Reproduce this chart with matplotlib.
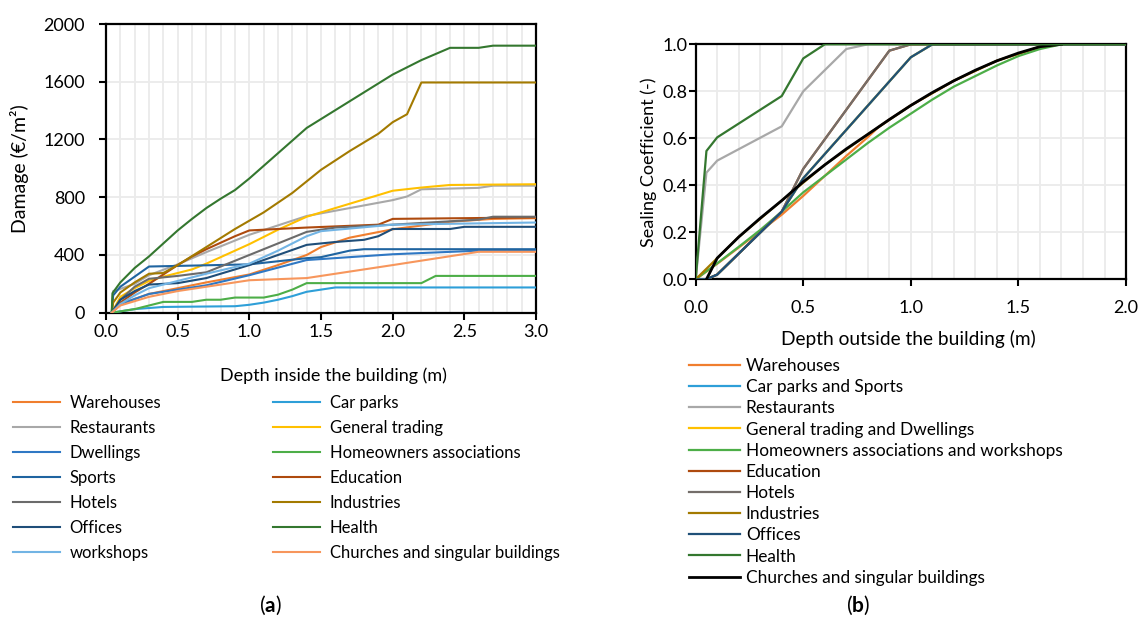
import numpy as np
import matplotlib
matplotlib.use("Agg")
import matplotlib.pyplot as plt
from matplotlib.ticker import FormatStrFormatter

plt.rcParams['font.family'] = ['Lato', 'DejaVu Sans']
plt.rcParams['mathtext.fontset'] = 'custom'
plt.rcParams['mathtext.rm'] = 'Lato'
plt.rcParams['mathtext.bf'] = 'Lato:bold'

# (a) damage inside the building
names_a = ['Warehouses', 'Car parks', 'Restaurants', 'General trading', 'Dwellings',
           'Homeowners associations', 'Sports', 'Education', 'Hotels', 'Industries',
           'Offices', 'Health', 'workshops', 'Churches and singular buildings']
colors_a = ['#F07E2E', '#2E9FD8', '#A8A8A8', '#FFC000', '#2F78C4', '#4DAE48', '#1F64A0',
            '#AE4A0E', '#6B6B6B', '#A37A00', '#1F4E79', '#34772F', '#72B4E4', '#F7965C']

warehouses_x = [0.04, 0.1, 0.3, 0.5, 0.7, 1.0, 1.2, 1.4, 1.5, 1.7, 2.0, 2.4, 2.7, 3.0]
warehouses_y = [0, 60, 130, 170, 210, 265, 330, 400, 455, 520, 578, 630, 650, 655]
carparks_x = [0.04, 0.2, 0.4, 0.9, 1.0, 1.1, 1.2, 1.3, 1.4, 1.6, 3.0]
carparks_y = [0, 25, 40, 45, 55, 70, 90, 115, 145, 175, 175]
restaurants_x = [0.04, 0.05, 0.1, 0.2, 0.3, 0.5, 0.7, 0.9, 1.0, 1.4, 2.0, 2.1, 2.2, 2.6, 2.7, 3.0]
restaurants_y = [0, 150, 165, 200, 260, 335, 420, 500, 540, 670, 780, 805, 855, 865, 880, 880]
trading_x = [0.04, 0.1, 0.2, 0.3, 0.4, 0.5, 0.6, 0.7, 0.8, 0.9, 1.0, 1.2, 1.4, 1.7, 2.0, 2.2, 2.4, 3.0]
trading_y = [0, 110, 170, 220, 250, 275, 300, 340, 385, 430, 475, 575, 665, 755, 845, 867, 885, 890]
dwellings_x = [0.04, 0.1, 0.3, 0.5, 0.7, 1.0, 1.4, 2.0, 2.6, 3.0]
dwellings_y = [0, 60, 130, 160, 190, 260, 365, 405, 430, 430]
homeowners_x = [0.04, 0.2, 0.4, 0.6, 0.7, 0.8, 0.9, 1.1, 1.2, 1.3, 1.4, 2.2, 2.3, 3.0]
homeowners_y = [0, 25, 75, 75, 90, 90, 105, 105, 125, 160, 205, 205, 255, 255]
sports_x = [0.04, 0.05, 0.1, 0.2, 0.3, 1.0, 1.4, 1.5, 1.7, 1.8, 3.0]
sports_y = [0, 120, 180, 250, 320, 335, 378, 385, 430, 440, 440]
education_x = [0.04, 0.1, 0.2, 0.3, 0.4, 0.5, 0.6, 0.7, 0.8, 0.9, 1.0, 1.4, 1.9, 2.0, 3.0]
education_y = [0, 70, 140, 200, 265, 330, 390, 440, 485, 530, 570, 590, 610, 650, 660]
hotels_x = [0.04, 0.1, 0.2, 0.3, 0.5, 0.7, 1.0, 1.4, 1.6, 2.0, 2.6, 2.7, 3.0]
hotels_y = [0, 90, 180, 235, 255, 280, 400, 560, 590, 610, 645, 665, 665]
industries_x = [0.04, 0.05, 0.1, 0.2, 0.3, 0.4, 0.5, 0.7, 0.9, 1.1, 1.3, 1.5, 1.7, 1.9, 2.0, 2.1, 2.2, 3.0]
industries_y = [0, 70, 140, 210, 270, 275, 330, 455, 580, 695, 830, 990, 1120, 1240, 1320, 1375, 1595, 1595]
offices_x = [0.04, 0.1, 0.2, 0.3, 0.5, 0.7, 1.0, 1.2, 1.4, 1.6, 1.8, 1.9, 2.0, 2.4, 2.5, 3.0]
offices_y = [0, 90, 150, 195, 205, 240, 330, 400, 470, 490, 505, 530, 580, 580, 595, 595]
health_x = [0.04, 0.045, 0.1, 0.2, 0.3, 0.4, 0.5, 0.6, 0.7, 0.8, 0.9, 1.0, 1.4, 2.0, 2.2, 2.4, 2.6, 2.7, 3.0]
health_y = [0, 135, 210, 310, 390, 480, 570, 650, 725, 790, 850, 930, 1280, 1650, 1750, 1835, 1835, 1850, 1850]
workshops_x = [0.04, 0.1, 0.2, 0.3, 0.5, 0.7, 1.0, 1.2, 1.3, 1.4, 1.5, 2.0, 3.0]
workshops_y = [0, 60, 120, 170, 220, 270, 340, 430, 480, 530, 565, 610, 625]
churches_x = [0.04, 0.1, 0.3, 0.5, 0.7, 1.0, 1.4, 2.0, 2.6, 3.0]
churches_y = [0, 50, 110, 150, 180, 225, 240, 330, 422, 422]

series_a = [(warehouses_x, warehouses_y), (carparks_x, carparks_y), (restaurants_x, restaurants_y),
            (trading_x, trading_y), (dwellings_x, dwellings_y), (homeowners_x, homeowners_y),
            (sports_x, sports_y), (education_x, education_y), (hotels_x, hotels_y),
            (industries_x, industries_y), (offices_x, offices_y), (health_x, health_y),
            (workshops_x, workshops_y), (churches_x, churches_y)]

# (b) sealing coefficient outside the building
names_b = ['Warehouses', 'Car parks and Sports', 'Restaurants', 'General trading and Dwellings',
           'Homeowners associations and workshops', 'Education', 'Hotels', 'Industries',
           'Offices', 'Health', 'Churches and singular buildings']
colors_b = ['#F07E2E', '#2E9FD8', '#A8A8A8', '#FFC000', '#4DAE48', '#AE4A0E', '#746E6A',
            '#A37A00', '#1F5078', '#34772F', '#000000']

churches_b_x = [0.05, 0.1, 0.2, 0.3, 0.4, 0.5, 0.6, 0.7, 0.8, 0.9, 1.0, 1.1, 1.2, 1.3, 1.4, 1.5, 1.6, 1.7]
churches_b_y = [0, 0.09, 0.18, 0.26, 0.335, 0.415, 0.487, 0.555, 0.617, 0.68, 0.74, 0.795, 0.845, 0.89, 0.93, 0.963, 0.99, 1.0]
warehouses_b_x = [0, 0.1, 0.2, 0.3, 0.4, 0.5, 0.6, 0.7, 0.8, 0.85, 0.9, 1.0, 1.2, 1.4, 1.6, 1.7]
warehouses_b_y = [0, 0.066, 0.135, 0.205, 0.275, 0.355, 0.44, 0.525, 0.605, 0.648, 0.68, 0.74, 0.845, 0.93, 0.99, 1.0]
offices_b_x = [0, 0.05, 0.1, 0.4, 0.5, 1.0, 1.1, 2.0]
offices_b_y = [0, 0, 0.02, 0.288, 0.43, 0.945, 1.0, 1.0]
restaurants_b_x = [0, 0.05, 0.1, 0.4, 0.5, 0.6, 0.7, 0.8, 2.0]
restaurants_b_y = [0, 0.454, 0.505, 0.651, 0.80, 0.89, 0.98, 1.0, 1.0]
homeowners_b_x = [0, 0.1, 0.2, 0.3, 0.4, 0.5, 0.6, 0.7, 0.8, 0.9, 1.0, 1.1, 1.2, 1.3, 1.4, 1.5, 1.6, 1.7, 2.0]
homeowners_b_y = [0, 0.068, 0.138, 0.21, 0.288, 0.37, 0.44, 0.51, 0.58, 0.645, 0.705, 0.765, 0.82, 0.865, 0.91, 0.95, 0.98, 1.0, 1.0]
hotels_b_x = [0, 0.05, 0.1, 0.4, 0.5, 0.9, 1.0, 2.0]
hotels_b_y = [0, 0, 0.02, 0.288, 0.47, 0.973, 1.0, 1.0]
industries_b_x = [0, 0.1, 0.2, 0.4, 0.6, 0.8, 1.0, 1.2, 1.4, 1.6, 1.7]
industries_b_y = [0, 0.09, 0.18, 0.335, 0.487, 0.617, 0.74, 0.845, 0.93, 0.99, 1.0]
health_b_x = [0, 0.05, 0.1, 0.4, 0.5, 0.6, 2.0]
health_b_y = [0, 0.546, 0.604, 0.78, 0.94, 1.0, 1.0]

series_b = [(warehouses_b_x, warehouses_b_y), (offices_b_x, offices_b_y),
            (restaurants_b_x, restaurants_b_y), (offices_b_x, offices_b_y),
            (homeowners_b_x, homeowners_b_y), (hotels_b_x, hotels_b_y),
            (hotels_b_x, hotels_b_y), (industries_b_x, industries_b_y),
            (offices_b_x, offices_b_y), (health_b_x, health_b_y),
            (churches_b_x, churches_b_y)]


def style_axes(ax, xmax, ymax, xstep, ystep):
    ax.set_xlim(0, xmax)
    ax.set_ylim(0, ymax)
    ax.set_xticks(np.arange(0, xmax + 1e-9, xstep))
    ax.set_xticks(np.arange(0, xmax + 1e-9, 0.1), minor=True)
    ax.set_yticks(np.arange(0, ymax + 1e-9, ystep))
    ax.grid(which='both', axis='x', color='#EBEBEB', lw=1.3)
    ax.grid(which='major', axis='y', color='#EBEBEB', lw=1.3)
    ax.set_axisbelow(True)
    ax.tick_params(which='minor', length=0)
    ax.tick_params(which='major', direction='out', length=5, width=1.5, labelsize=13)
    ax.xaxis.set_major_formatter(FormatStrFormatter('%.1f'))
    for s in ax.spines.values():
        s.set_linewidth(1.6)
        s.set_zorder(1.5)


fig = plt.figure(figsize=(11.41, 6.19), dpi=100)

ax1 = fig.add_axes([0.0929, 0.4948, 0.3769, 0.4664])
handles = []
for (x, y), name, c in zip(series_a, names_a, colors_a):
    h, = ax1.plot(x, y, color=c, lw=1.5, label=name)
    handles.append(h)
style_axes(ax1, 3.0, 2000, 0.5, 400)
ax1.tick_params(axis='y', pad=10)
ax1.tick_params(axis='x', pad=3)
ax1.set_xlabel('Depth inside the building (m)', fontsize=13)
ax1.xaxis.set_label_coords((333 - 106) / 430, -0.19)
ax1.set_ylabel('Damage (€/m²)', fontsize=14)
ax1.yaxis.set_label_coords(-0.18, 0.5)

order = handles[0::2] + handles[1::2]
fig.legend(order, [h.get_label() for h in order], loc='upper left',
           bbox_to_anchor=(13 / 1141, 1 - 395 / 619), ncol=2, frameon=False, fontsize=12,
           handlelength=2.8, handletextpad=0.6, columnspacing=6.7, labelspacing=0.54,
           borderaxespad=0, borderpad=0)

ax2 = fig.add_axes([0.6097, 0.5488, 0.3772, 0.3796])
handles_b = []
for (x, y), name, c in zip(series_b, names_b, colors_b):
    z = 3 if name == 'Health' else 2
    h, = ax2.plot(x, y, color=c, lw=1.6 if c != '#000000' else 2.0, label=name, zorder=z)
    handles_b.append(h)
style_axes(ax2, 2.0, 1.0, 0.5, 0.2)
ax2.yaxis.set_major_formatter(FormatStrFormatter('%.1f'))
ax2.tick_params(axis='y', pad=1)
ax2.tick_params(axis='x', pad=10)
ax2.set_xlabel('Depth outside the building (m)', fontsize=13.8)
ax2.xaxis.set_label_coords(0.495, -0.215)
ax2.set_ylabel('Sealing Coefficient (-)', fontsize=13)
ax2.yaxis.set_label_coords(-0.09, 0.5)

fig.legend(handles_b, names_b, loc='upper left', bbox_to_anchor=(689 / 1141, 1 - 358 / 619),
           ncol=1, frameon=False, fontsize=12.4, handlelength=2.95, handletextpad=0.35,
           labelspacing=0.3, borderaxespad=0, borderpad=0)

fig.text(270 / 1141, 1 - 605 / 619, r'($\mathbf{a}$)', ha='center', va='center', fontsize=15)
fig.text(858 / 1141, 1 - 605 / 619, r'($\mathbf{b}$)', ha='center', va='center', fontsize=15)

fig.savefig('out.png', dpi=100)
